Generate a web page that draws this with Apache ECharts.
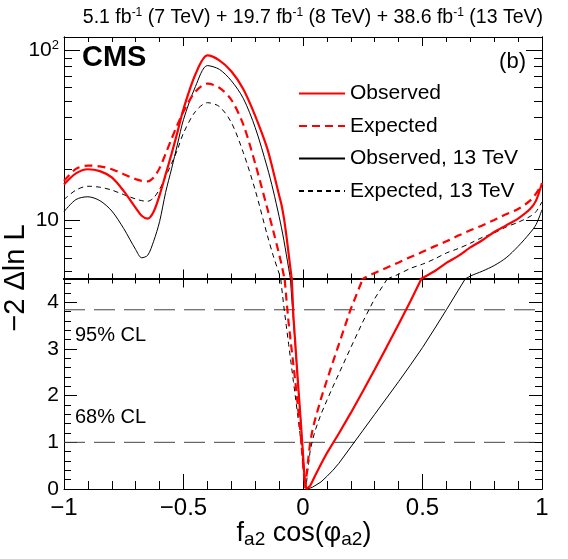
<!DOCTYPE html>
<html><head><meta charset="utf-8">
<script src="https://cdn.jsdelivr.net/npm/echarts@6/dist/echarts.min.js"></script>
<style>html,body{margin:0;padding:0;background:#fff}#c{width:568px;height:559px}</style>
</head><body><div id="c"></div>
<script>
// ---------------- data ----------------
const xs = [-1, -0.95, -0.9, -0.85, -0.8, -0.75, -0.7, -0.675, -0.65, -0.625, -0.6, -0.575, -0.55, -0.525, -0.5,
  -0.45, -0.4, -0.35, -0.3, -0.25, -0.2, -0.15, -0.125, -0.1, -0.09, -0.08, -0.07, -0.06, -0.05, -0.04, -0.03,
  -0.02, -0.01, 0, 0.005, 0.01, 0.015, 0.02, 0.03, 0.04, 0.05, 0.075, 0.1, 0.125, 0.15, 0.2, 0.25, 0.3, 0.35,
  0.4, 0.45, 0.5, 0.55, 0.6, 0.65, 0.7, 0.75, 0.8, 0.85, 0.9, 0.95, 0.975, 1];

const observed = [16.2, 18.8, 19.9, 19.4, 17.8, 14.8, 11.8, 10.6, 10.2, 11.2, 14.0, 18.5, 24.5, 33, 45,
  72, 93, 87, 75, 59, 41, 26.5, 19.5, 14, 12.3, 10.3, 8.2, 6.3, 4.85, 3.7, 2.95,
  2.2, 1.5, 0.75, 0.35, 0.08, 0.0, 0.01, 0.07, 0.17, 0.28, 0.53, 0.77, 0.98, 1.19, 1.63, 2.09, 2.56, 3.04,
  3.53, 4.03, 4.55, 5.0, 5.6, 6.15, 6.9, 7.6, 8.5, 9.3, 10.2, 11.6, 13.0, 16.5];

const expected = [17.0, 20.0, 20.9, 20.7, 19.9, 18.6, 17.4, 17.0, 16.9, 17.8, 20.2, 24.5, 30, 36.5, 43.5,
  57, 63.5, 60, 51, 36.5, 21.5, 11.8, 8.7, 6.3, 5.5, 4.7, 4.1, 3.55, 3.1, 2.65, 2.2,
  1.7, 1.2, 0.55, 0.25, 0.02, 0.3, 0.55, 1.0, 1.27, 1.48, 1.93, 2.33, 2.72, 3.1, 3.86, 4.5, 4.88, 5.24,
  5.63, 6.06, 6.5, 7.0, 7.5, 8.1, 8.7, 9.3, 10.0, 10.8, 11.6, 13.0, 14.3, 16.3];

const observed13 = [11.2, 13.2, 13.7, 13.0, 11.3, 8.9, 6.7, 6.0, 6.2, 7.5, 9.8, 14.5, 20, 28, 39,
  61, 81, 77, 66, 52, 35, 20.5, 15, 10.5, 9.0, 7.6, 6.3, 5.2, 4.3, 3.6, 2.9,
  2.2, 1.5, 0.75, 0.35, 0.08, 0.0, 0.005, 0.02, 0.04, 0.07, 0.15, 0.27, 0.4, 0.55, 0.9, 1.25, 1.6, 1.95,
  2.3, 2.66, 3.03, 3.43, 3.84, 4.26, 4.68, 5.0, 5.4, 6.0, 7.0, 8.4, 9.4, 11.5];

const expected13 = [13.2, 15.0, 15.8, 15.6, 15.0, 14.1, 13.3, 13.0, 12.9, 13.5, 15.2, 18, 21.5, 26, 32.5,
  43.5, 49, 46.5, 37.5, 25, 15, 8.2, 6.2, 4.85, 4.35, 3.9, 3.5, 3.1, 2.7, 2.3, 1.9,
  1.5, 1.08, 0.5, 0.22, 0.02, 0.15, 0.4, 0.82, 1.05, 1.24, 1.6, 1.9, 2.19, 2.47, 3.03, 3.58, 4.08, 4.48,
  4.8, 5.2, 5.5, 5.9, 6.4, 6.8, 7.3, 7.9, 8.4, 9.1, 9.7, 10.5, 11.2, 12.8];

const seriesNames = ['Observed', 'Expected', 'Observed, 13 TeV', 'Expected, 13 TeV'];
const clLevels = [3.84, 1.0];
const clLabels = ['95% CL', '68% CL'];

const xMin = -1, xMax = 1, xStep = 0.5;
const topRange = [4.53, 119.3];          // log panel
const bottomRange = [0, 4.51];           // linear panel
const topMajorTicks = [10, 100];
const topMinorTicks = [5, 6, 7, 8, 9, 20, 30, 40, 50, 60, 70, 80, 90];
const bottomMajorTicks = [0, 1, 2, 3, 4];
const bottomMinorTicks = [0.2, 0.4, 0.6, 0.8, 1.2, 1.4, 1.6, 1.8, 2.2, 2.4, 2.6, 2.8, 3.2, 3.4, 3.6, 3.8, 4.2, 4.4];

const titleText = '5.1 fb{s|-1} (7 TeV) + 19.7 fb{s|-1} (8 TeV) + 38.6 fb{s|-1} (13 TeV)';

// ---------------- chart ----------------
const FONT = '"Liberation Sans", Arial, Helvetica, sans-serif';
const chart = echarts.init(document.getElementById('c'), null, {renderer: 'canvas'});
const lg = Math.log10;
const BLACK = '#000';

function xAx(grid, pos, major, minor, lw, showLabel) {
  return {
    type: 'value', gridIndex: grid, position: pos, min: xMin, max: xMax, interval: xStep,
    axisLine: {show: true, onZero: false, lineStyle: {color: BLACK, width: lw}},
    axisTick: {show: true, inside: true, length: major, lineStyle: {color: BLACK, width: 1}},
    minorTick: {show: true, splitNumber: 5, length: minor, lineStyle: {color: BLACK, width: 1}},
    splitLine: {show: false}, minorSplitLine: {show: false},
    axisLabel: {show: showLabel, margin: 7, fontSize: 24, fontFamily: FONT, color: BLACK,
      showMinLabel: true, showMaxLabel: true,
      formatter: v => (v < 0 ? '\u2212' + Math.abs(v) : String(v))}
  };
}
function yAx(grid, pos, range, ticks, len, label, isLog) {
  const tf = isLog ? lg : (v => v);
  const ax = {
    type: 'value', gridIndex: grid, position: pos, min: tf(range[0]), max: tf(range[1]),
    axisLine: {show: true, onZero: false, lineStyle: {color: BLACK, width: 1}},
    axisTick: {show: true, inside: true, length: len, customValues: ticks.map(tf), lineStyle: {color: BLACK, width: 1}},
    splitLine: {show: false},
    axisLabel: {show: false}
  };
  if (label) {
    ax.axisLabel = {show: true, margin: 5, fontSize: 21, fontFamily: FONT, color: BLACK,
      customValues: ticks.map(tf),
      formatter: isLog ? (v => { const e = Math.round(v); return e === 1 ? '10' : '10{s|' + e + '}'; }) : (v => String(Math.round(v))),
      rich: {s: {fontSize: 13, fontFamily: FONT, color: BLACK, padding: [0, 0, 10, 0]}}};
  }
  return ax;
}

const styles = {
  'Observed': {color: '#ff0000', width: 2.2, type: 'solid'},
  'Expected': {color: '#ff0000', width: 2.2, type: [8, 5]},
  'Observed, 13 TeV': {color: BLACK, width: 1, type: 'solid'},
  'Expected, 13 TeV': {color: BLACK, width: 1, type: [5, 4]}
};
const valuesByName = {
  'Observed': observed, 'Expected': expected,
  'Observed, 13 TeV': observed13, 'Expected, 13 TeV': expected13
};
const drawOrder = ['Expected, 13 TeV', 'Observed, 13 TeV', 'Expected', 'Observed'];

const series = [];
drawOrder.forEach(name => {
  const vals = valuesByName[name];
  const st = styles[name];
  series.push({
    name, type: 'line', xAxisIndex: 0, yAxisIndex: 0, symbol: 'none', smooth: 0.3, clip: true,
    color: st.color, lineStyle: st, silent: true,
    data: xs.map((x, i) => [x, lg(Math.max(vals[i], 0.5))])
  });
  series.push({
    name, type: 'line', xAxisIndex: 2, yAxisIndex: 4, symbol: 'none', smooth: false, clip: true,
    color: st.color, lineStyle: st, silent: true,
    data: xs.map((x, i) => [x, vals[i]])
  });
});
clLevels.forEach((lvl, k) => {
  series.unshift({
    name: clLabels[k], type: 'line', xAxisIndex: 2, yAxisIndex: 4, symbol: 'none', silent: true,
    color: '#444', lineStyle: {color: '#444', width: 1, type: [21, 9]},
    data: [[xMin, lvl], [xMax, lvl]]
  });
});

const option = {
  animation: false,
  backgroundColor: '#fff',
  grid: [
    {left: 64, top: 37, width: 478, height: 241.5},
    {left: 64, top: 278.5, width: 478, height: 210.5}
  ],
  xAxis: [
    xAx(0, 'bottom', 9, 5, 2, false),
    xAx(0, 'top', 9, 5, 1, false),
    xAx(1, 'bottom', 15, 8, 1, true),
    xAx(1, 'top', 9, 5, 2, false)
  ],
  yAxis: [
    yAx(0, 'left', topRange, topMajorTicks, 16, true, true),
    yAx(0, 'right', topRange, topMajorTicks, 16, false, true),
    yAx(0, 'left', topRange, topMinorTicks, 8, false, true),
    yAx(0, 'right', topRange, topMinorTicks, 8, false, true),
    yAx(1, 'left', bottomRange, bottomMajorTicks, 13, true, false),
    yAx(1, 'right', bottomRange, bottomMajorTicks, 13, false, false),
    yAx(1, 'left', bottomRange, bottomMinorTicks, 7, false, false),
    yAx(1, 'right', bottomRange, bottomMinorTicks, 7, false, false)
  ],
  legend: {
    data: seriesNames, left: 293, top: 78, orient: 'vertical', selectedMode: false,
    itemWidth: 46, itemHeight: 14, itemGap: 11.5,
    itemStyle: {opacity: 0, borderWidth: 0},
    textStyle: {fontSize: 21, fontFamily: FONT, color: BLACK, lineHeight: 20}
  },
  series,
  graphic: {elements: [
    {type: 'text', x: 543, y: 18, silent: true,
      style: {text: titleText, fontSize: 19.5, fontFamily: FONT, fill: BLACK, align: 'right', verticalAlign: 'middle',
        rich: {s: {fontSize: 12, fontFamily: FONT, fill: BLACK, padding: [0, 0, 10, 0]}}}},
    {type: 'text', x: 82, y: 58, silent: true,
      style: {text: 'CMS', fontSize: 29, fontWeight: 'bold', fontFamily: FONT, fill: BLACK, align: 'left', verticalAlign: 'middle'}},
    {type: 'text', x: 526, y: 62, silent: true,
      style: {text: '(b)', fontSize: 22, fontFamily: FONT, fill: BLACK, align: 'right', verticalAlign: 'middle'}},
    {type: 'text', x: 75, y: 335, silent: true,
      style: {text: clLabels[0], fontSize: 20, fontFamily: FONT, fill: BLACK, align: 'left', verticalAlign: 'middle'}},
    {type: 'text', x: 75, y: 417, silent: true,
      style: {text: clLabels[1], fontSize: 20, fontFamily: FONT, fill: BLACK, align: 'left', verticalAlign: 'middle'}},
    {type: 'text', x: 16, y: 278, rotation: Math.PI / 2, silent: true,
      style: {text: '\u22122 \u0394ln L', fontSize: 29, fontFamily: FONT, fill: BLACK, align: 'center', verticalAlign: 'middle'}},
    {type: 'text', x: 304, y: 534, silent: true,
      style: {text: 'f{b|a2} cos(\u03c6{b|a2})', fontSize: 27, fontFamily: FONT, fill: BLACK, align: 'center', verticalAlign: 'middle',
        rich: {b: {fontSize: 19, fontFamily: FONT, fill: BLACK, padding: [12, 0, 0, 0]}}}}
  ]}
};
chart.setOption(option);
</script></body></html>
